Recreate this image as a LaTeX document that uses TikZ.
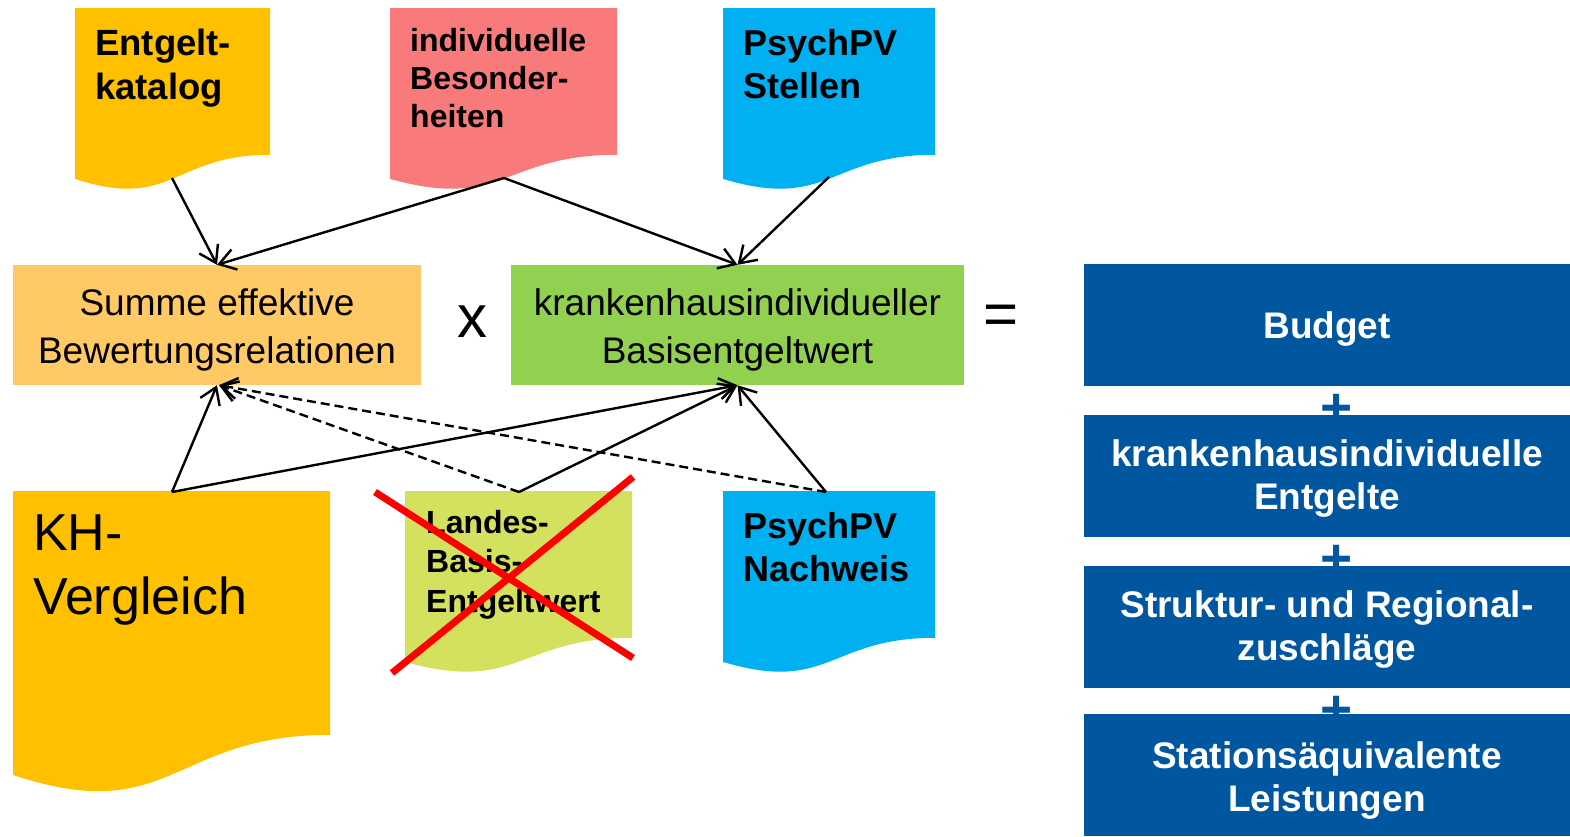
\documentclass[tikz,border=0pt]{standalone}
\usepackage{fontspec}
\setmainfont{Liberation Sans}
\usetikzlibrary{arrows.meta}
\definecolor{cOrange}{HTML}{FFC000}
\definecolor{cPink}{HTML}{F87A7A}
\definecolor{cCyan}{HTML}{00B0F0}
\definecolor{cSumme}{HTML}{FFC965}
\definecolor{cGreen}{HTML}{92D050}
\definecolor{cLime}{HTML}{D4E15E}
\definecolor{cBlue}{HTML}{00569F}
\newcommand\docshape[5]{%
  \fill[#5] (#1,#2) -- (#3,#2) -- (#3,{#2+0.802*#4})
    .. controls ({(#1+#3)/2},{#2+0.802*#4}) and ({(#1+#3)/2},{#2+1.1075*#4}) ..
    (#1,{#2+0.934*#4}) -- cycle;}
\tikzset{
  arr/.style={line width=2.4pt, -{Straight Barb[length=16pt,width=21pt,line width=2.4pt]}},
  darr/.style={arr, dash pattern=on 9pt off 5pt},
  doctext/.style={anchor=north west, inner sep=0pt, align=left},
  midbox/.style={inner sep=0pt, minimum height=120pt},
  midtext/.style={inner sep=0pt, align=center, font=\fontsize{37}{48}\selectfont},
  bluebox/.style={fill=cBlue, inner sep=0pt, minimum width=486pt, minimum height=122pt},
  bluetext/.style={inner sep=0pt, align=center, text=white, font=\fontsize{37}{43}\selectfont\bfseries},
  plussign/.style={inner sep=0pt, text=cBlue, font=\fontsize{55}{55}\selectfont\bfseries},
  cross/.style={red, line width=7pt}
}
\begin{document}
\begin{tikzpicture}[x=1pt,y=-1pt]
\useasboundingbox (0,0) rectangle (1570,836);
% top documents
\docshape{75}{8}{270}{183}{cOrange}
\docshape{390}{8}{617}{183}{cPink}
\docshape{723}{8}{935}{183}{cCyan}
\node[doctext, font=\fontsize{36.5}{44}\selectfont\bfseries] (entgelt) at (95,29) {Entgelt-\\katalog};
\node[doctext, font=\fontsize{32}{38}\selectfont\bfseries] (indiv) at (410,28) {individuelle\\Besonder-\\heiten};
\node[doctext, font=\fontsize{36}{43}\selectfont\bfseries] (stellen) at (743,29) {PsychPV\\Stellen};
% bottom documents
\docshape{13}{491}{330}{304}{cOrange}
\docshape{405}{491}{632}{183}{cLime}
\docshape{723}{491}{935}{183}{cCyan}
\node[doctext, font=\fontsize{52}{64}\selectfont] (kh) at (33,515) {KH-\\Vergleich};
\node[doctext, font=\fontsize{32}{39.5}\selectfont\bfseries] (landes) at (426,510) {Landes-\\Basis-\\Entgeltwert};
\node[doctext, font=\fontsize{36}{43}\selectfont\bfseries] (nachweis) at (743,512) {PsychPV\\Nachweis};
% middle boxes
\node[midbox, fill=cSumme, minimum width=408pt] (summe) at (217,325) {};
\node[midtext] (summeT) at ([yshift=-5pt]summe.center) {Summe effektive\\Bewertungsrelationen};
\node[midbox, fill=cGreen, minimum width=453pt] (basis) at (737.5,325) {};
\node[midtext] (basisT) at ([yshift=-5pt]basis.center) {krankenhausindividueller\\Basisentgeltwert};
\node[inner sep=0pt, font=\fontsize{60}{60}\selectfont] (mal) at (472,322) {x};
\node[inner sep=0pt, font=\fontsize{60}{60}\selectfont] (gleich) at (1001,320) {=};
% right column
\node[plussign] (p1) at (1336.5,410) {+};
\node[plussign] (p2) at (1336.5,561) {+};
\node[plussign] (p3) at (1336.5,712) {+};
\node[bluebox] (budget) at (1327,325) {};
\node[bluebox] (khent) at (1327,476) {};
\node[bluebox] (struktur) at (1327,627) {};
\node[bluebox] (station) at (1327,775) {};
\node[bluetext] (budgetT) at ([yshift=-4pt]budget.center) {Budget};
\node[bluetext] (khentT) at ([yshift=-3pt]khent.center) {krankenhausindividuelle\\Entgelte};
\node[bluetext] (strukturT) at ([yshift=-3pt]struktur.center) {Struktur- und Regional-\\zuschläge};
\node[bluetext] (stationT) at ([yshift=-5pt]station.center) {Stationsäquivalente\\Leistungen};
% connector ends
\coordinate (entgeltB) at (172,178);
\coordinate (indivB) at (504,178);
\coordinate (stellenB) at (829,177);
\coordinate (khT) at (172,492);
\coordinate (landesT) at (519,492);
\coordinate (nachweisT) at (826,492);
% arrows
\draw[arr] (entgeltB) -- (summe.north);
\draw[arr] (indivB) -- (summe.north);
\draw[arr] (indivB) -- (basis.north);
\draw[arr] (stellenB) -- (basis.north);
\draw[arr] (khT) -- (summe.south);
\draw[arr] (khT) -- (basis.south);
\draw[arr] (landesT) -- (basis.south);
\draw[arr] (nachweisT) -- (basis.south);
\draw[darr] (landesT) -- ([xshift=2pt]summe.south);
\draw[darr] (nachweisT) -- ([xshift=2pt]summe.south);
% red cross
\draw[cross] (375,492) -- (633,658);
\draw[cross] (392,673) -- (633,477);
\end{tikzpicture}
\end{document}
